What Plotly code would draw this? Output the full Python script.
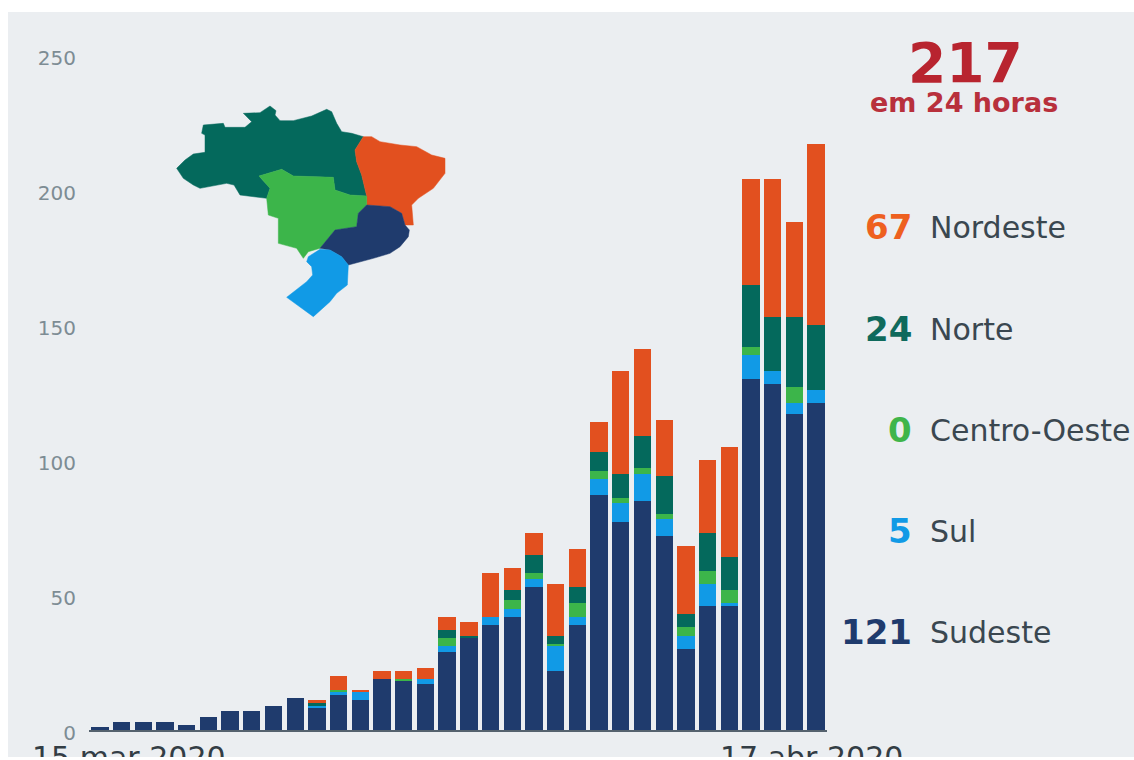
import plotly.graph_objects as go

days = ["2020-03-15","2020-03-16","2020-03-17","2020-03-18","2020-03-19","2020-03-20","2020-03-21","2020-03-22","2020-03-23","2020-03-24",
        "2020-03-25","2020-03-26","2020-03-27","2020-03-28","2020-03-29","2020-03-30","2020-03-31","2020-04-01","2020-04-02","2020-04-03",
        "2020-04-04","2020-04-05","2020-04-06","2020-04-07","2020-04-08","2020-04-09","2020-04-10","2020-04-11","2020-04-12","2020-04-13",
        "2020-04-14","2020-04-15","2020-04-16","2020-04-17"]
sudeste =      [1,3,3,3,2,5,7,7,9,12, 8,13,11,19,18,17,29,34,39,42,53,22,39,87,77,85,72,30,46,46,130,128,117,121]
sul =          [0,0,0,0,0,0,0,0,0,0,  1,1,3,0,0,2,2,0,3,3,3,9,3,6,7,10,6,5,8,1,9,5,4,5]
centro_oeste = [0,0,0,0,0,0,0,0,0,0,  0,1,0,0,1,0,3,0,0,3,2,1,5,3,2,2,2,3,5,5,3,0,6,0]
norte =        [0,0,0,0,0,0,0,0,0,0,  1,0,0,0,0,0,3,1,0,4,7,3,6,7,9,12,14,5,14,12,23,20,26,24]
nordeste =     [0,0,0,0,0,0,0,0,0,0,  1,5,1,3,3,4,5,5,16,8,8,19,14,11,38,32,21,25,27,41,39,51,35,67]
series = [("Sudeste", sudeste, "#1f3b6d"), ("Sul", sul, "#119ae6"), ("Centro-Oeste", centro_oeste, "#3cb54a"),
          ("Norte", norte, "#04695c"), ("Nordeste", nordeste, "#e2501f")]
totals = [sum(v) for v in zip(sudeste, sul, centro_oeste, norte, nordeste)]

y_ticks = [0, 50, 100, 150, 200, 250]
x_tick_vals = ["2020-03-16 08:00", "2020-04-16 19:00"]
x_tick_text = ["15 mar 2020", "17 abr 2020"]

map_norte = [(50,235),(75,210),(100,192),(135,187),(135,135),(125,130),(130,105),(190,100),(195,112),(255,112),(275,95),(250,70),(300,68),(330,48),(348,62),(345,75),(360,92),(400,92),(455,78),(500,58),(515,65),(530,100),(545,125),(575,130),(610,140),(585,180),(590,215),(605,255),(620,318),(570,315),(525,300),(520,262),(400,258),(365,238),(297,258),(330,295),(320,325),(285,320),(240,315),(222,285),(200,280),(120,295),(100,285),(70,265)]
map_nordeste = [(610,140),(635,140),(660,155),(720,165),(770,170),(815,195),(855,205),(855,250),(820,295),(775,325),(755,345),(760,405),(735,405),(725,370),(690,350),(620,345),(620,318),(605,255),(590,215),(585,180)]
map_centro = [(297,258),(365,238),(400,258),(520,262),(525,300),(570,315),(620,318),(620,345),(595,370),(590,410),(525,420),(480,475),(445,485),(430,505),(410,475),(355,460),(355,385),(325,375),(320,325),(330,295)]
map_sudeste = [(620,345),(690,350),(725,370),(735,405),(748,420),(745,440),(720,470),(690,490),(640,505),(600,515),(565,525),(545,500),(510,480),(480,475),(525,420),(590,410),(595,370)]
map_sul = [(445,500),(480,478),(510,480),(545,500),(565,525),(562,585),(530,610),(510,635),(460,680),(380,622),(440,575),(458,555),(455,530),(440,515)]

W, H = 1134, 757
L, R, T, B = 89, 827, 55, 733   # plot area in page pixels
PW, PH = R - L, B - T
def px(x): return (x - L) / PW
def py(y): return (B - y) / PH

fig = go.Figure()
for name, vals, col in series:
    fig.add_bar(x=days, y=vals, name=name, marker=dict(color=col, line_width=0), xaxis="x", yaxis="y")
fig.add_scatter(x=days, y=totals, mode="lines", opacity=0, xaxis="x", yaxis="y2", hoverinfo="skip", showlegend=False)
for poly, col in [(map_norte, "#04695c"), (map_nordeste, "#e2501f"), (map_centro, "#3cb54a"), (map_sudeste, "#1f3b6d"), (map_sul, "#119ae6")]:
    xs = [p[0] for p in poly] + [poly[0][0]]
    ys = [p[1] for p in poly] + [poly[0][1]]
    fig.add_scatter(x=xs, y=ys, mode="lines", fill="toself", fillcolor=col, line=dict(color=col, width=0.5),
                    xaxis="x2", yaxis="y3", hoverinfo="skip", showlegend=False)

font_bold = "DejaVu Sans"
anns = [
    dict(text="<b>217</b>", x=965, y=63, size=55, color="#b8242f", anchor="center"),
    dict(text="<b>em 24 horas</b>", x=964, y=102, size=27, color="#b8303c", anchor="center"),
]
rows = [("67", "Nordeste", "#ee601f", 227), ("24", "Norte", "#0f6a5c", 329), ("0", "Centro-Oeste", "#3fb54a", 430),
        ("5", "Sul", "#119ae6", 531), ("121", "Sudeste", "#1f3b6d", 632)]
for num, lab, col, y in rows:
    anns.append(dict(text=f"<b>{num}</b>", x=914, y=y, size=34, color=col, anchor="right"))
    anns.append(dict(text=lab, x=928, y=y, size=30, color="#3a4750", anchor="left"))

annotations = [dict(text=a["text"], x=px(a["x"]), y=py(a["y"]), xref="paper", yref="paper", xanchor=a["anchor"], yanchor="middle",
                    showarrow=False, font=dict(family=font_bold, size=a["size"], color=a["color"])) for a in anns]

fig.update_layout(
    template="none",
    width=W, height=H, autosize=False,
    margin=dict(l=L, r=W-R, t=T, b=H-B, pad=0),
    paper_bgcolor="#ebeef1", plot_bgcolor="rgba(0,0,0,0)",
    barmode="stack", bargap=0.2, showlegend=False,
    xaxis=dict(type="date", domain=[0,1], range=["2020-03-14 12:00","2020-04-17 12:00"], anchor="y", automargin=False,
               tickmode="array", tickvals=x_tick_vals, ticktext=x_tick_text, tickangle=0,
               showgrid=False, zeroline=False, showline=True, linecolor="#55626e", linewidth=2,
               ticks="", tickfont=dict(family="DejaVu Sans", size=30, color="#333d45")),
    yaxis=dict(domain=[3/PH, 1], range=[0,250], showticklabels=False, showgrid=False, zeroline=False, showline=False, ticks="", automargin=False),
    yaxis2=dict(domain=[0, 1-3/PH], range=[0,250], anchor="x", tickmode="array", tickvals=y_ticks, showgrid=False, zeroline=False,
                showline=False, ticks="outside", ticklen=8, tickcolor="rgba(0,0,0,0)", automargin=False,
                tickfont=dict(family="DejaVu Sans", size=20, color="#7d8c94")),
    xaxis2=dict(domain=[px(160), px(460)], range=[0,900], visible=False, anchor="y3", fixedrange=True),
    yaxis3=dict(domain=[py(330), py(90)], range=[720,0], visible=False, anchor="x2", fixedrange=True),
    annotations=annotations,
    shapes=[dict(type="rect", xref="paper", yref="paper", x0=px(0), x1=px(W), y0=py(12), y1=py(0), fillcolor="white", line_width=0, layer="above"),
            dict(type="rect", xref="paper", yref="paper", x0=px(0), x1=px(8), y0=py(H), y1=py(0), fillcolor="white", line_width=0, layer="above")],
)
fig.write_html("out.html", config={"displayModeBar": False}, post_script="document.body.style.margin='0';")
